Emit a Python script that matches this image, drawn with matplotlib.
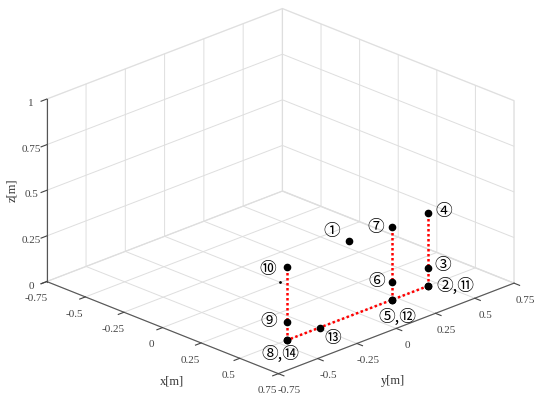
import numpy as np
import matplotlib
matplotlib.use("Agg")
import matplotlib.pyplot as plt
from mpl_toolkits.mplot3d import proj3d

plt.rcParams['font.family'] = ['Liberation Serif', 'DejaVu Sans']
plt.rcParams['axes.unicode_minus'] = False

# axis ticks
xy_ticks = [-0.75, -0.5, -0.25, 0, 0.25, 0.5, 0.75]
xy_tick_labels = ['-0.75', '-0.5', '-0.25', '0', '0.25', '0.5', '0.75']
z_ticks = [0, 0.25, 0.5, 0.75, 1]
z_tick_labels = ['0', '0.25', '0.5', '0.75', '1']

# points 1..14 (x, y, z in m)
pt_x = [0.22, 0.5, 0.5, 0.5, 0.5, 0.5, 0.5, 0.5, 0.5, 0.5, 0.5, 0.5, 0.5, 0.5]
pt_y = [0.22, 0.45, 0.45, 0.45, 0.22, 0.22, 0.22, -0.45, -0.45, -0.45, 0.45, 0.22, -0.24, -0.45]
pt_z = [0.23, 0.0, 0.1, 0.4, 0.0, 0.1, 0.4, 0.0, 0.1, 0.4, 0.0, 0.0, 0.0, 0.0]

# red dotted paths (1-based point numbers)
paths = [[2, 3, 4], [5, 6, 7], [8, 9, 10], [11, 12, 13, 14]]

# label text, anchor point, offset in px (dx, dy), alignment
labels = [
    ('①', 1, (-17, 9), 'center'),
    ('②,⑪', 2, (8, -1), 'left'),
    ('③', 3, (14, 2), 'center'),
    ('④', 4, (15, 1), 'center'),
    ('⑤,⑫', 5, (5, -18), 'center'),
    ('⑥', 6, (-15, 0), 'center'),
    ('⑦', 7, (-16, -1), 'center'),
    ('⑧,⑭', 8, (-7, -14), 'center'),
    ('⑨', 9, (-18, 0), 'center'),
    ('⑩', 10, (-19, -2), 'center'),
    ('⑬', 13, (13, -11), 'center'),
]

origin = (0.0, 0.0, 0.0)

fig = plt.figure(figsize=(5.5, 3.99), dpi=100)
ax = fig.add_axes([0, 3 / 399, 1, 1], projection='3d', computed_zorder=False)
ax.set_proj_type('ortho')
ax.view_init(elev=23.0, azim=-44.5)
ax.set_box_aspect((1, 1, 0.6), zoom=1.235)

ax.set_xlim(-0.75, 0.75)
ax.set_ylim(-0.75, 0.75)
ax.set_zlim(0, 1)
ax.set_xticks(xy_ticks, xy_tick_labels)
ax.set_yticks(xy_ticks, xy_tick_labels)
ax.set_zticks(z_ticks, z_tick_labels)
ax.zaxis.set_ticks_position('lower')

for axis in (ax.xaxis, ax.yaxis, ax.zaxis):
    axis.pane.set_facecolor((1, 1, 1, 0))
    axis.pane.set_edgecolor('#dedede')
    axis.line.set_color('#555555')
    axis._axinfo['grid'].update(color='#dedede', linewidth=0.7)
    axis._axinfo['tick'].update(inward_factor=0.3, outward_factor=0.0)
ax.tick_params(labelsize=8, colors='#444444')
ax.tick_params(axis='x', pad=-1)
ax.tick_params(axis='y', pad=-1)
ax.tick_params(axis='z', pad=-3)

# axis titles placed like the MATLAB figure
fig.text(172 / 550, 1 - 381 / 399, 'x[m]', fontsize=9, color='#333333', ha='center', va='center')
fig.text(393 / 550, 1 - 381 / 399, 'y[m]', fontsize=9, color='#333333', ha='center', va='center')
fig.text(12 / 550, 1 - 190 / 399, 'z[m]', fontsize=9, color='#333333', ha='center', va='center',
         rotation=90)

px = np.array(pt_x)
py = np.array(pt_y)
pz = np.array(pt_z)

for path in paths:
    idx = [p - 1 for p in path]
    ax.plot(px[idx], py[idx], pz[idx], color='red', linestyle=(0, (1, 1)), linewidth=1.8)

ax.plot(px, py, pz, 'o', color='black', markersize=4.5, linestyle='none')
ax.plot([origin[0]], [origin[1]], [origin[2]], 'o', color='black', markersize=1)

# place the circled labels in screen space next to the projected points
fig.canvas.draw()
for text, num, (dx, dy), ha in labels:
    sx, sy, _ = proj3d.proj_transform(px[num - 1], py[num - 1], pz[num - 1], ax.get_proj())
    ax.annotate(text, xy=(sx, sy), xycoords='data', xytext=(dx, dy),
                textcoords='offset pixels', fontsize=12, ha=ha, va='center',
                family=['Noto Sans CJK JP', 'DejaVu Sans'], annotation_clip=False)

fig.savefig('out.png', dpi=100)
